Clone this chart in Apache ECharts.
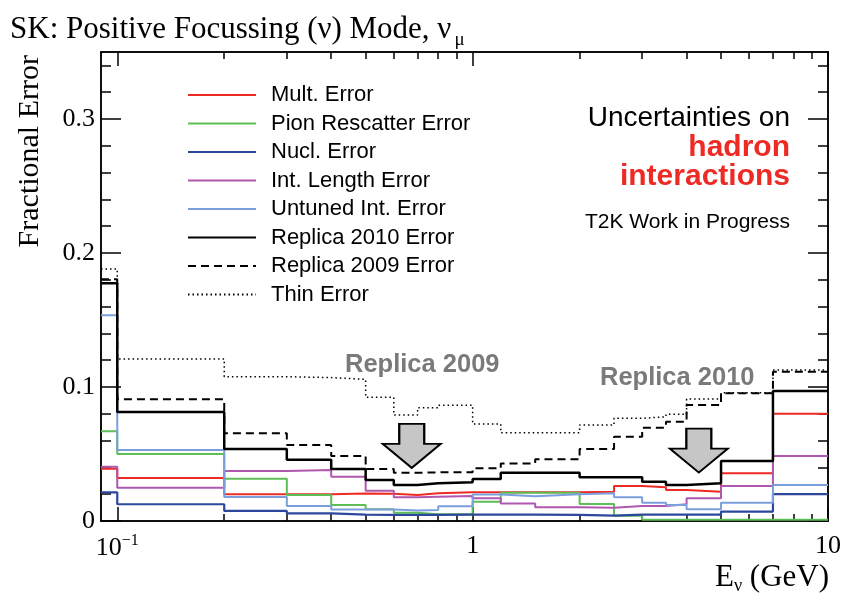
<!DOCTYPE html>
<html>
<head>
<meta charset="utf-8">
<script src="https://cdn.jsdelivr.net/npm/echarts@6/dist/echarts.min.js"></script>
<style>
html, body { margin: 0; padding: 0; background: #fff; }
#chart { width: 844px; height: 593px; }
</style>
</head>
<body>
<div id="chart"></div>
<script>
// bin edges (GeV), first bin starts at the axis edge
var binEdges = [0.09, 0.1, 0.2, 0.3, 0.4, 0.5, 0.6, 0.7, 0.8, 1.0, 1.2, 1.5, 2.0, 2.5, 3.0, 3.5, 4.0, 5.0, 7.0, 10];

var multErr    = [0.039, 0.032, 0.020, 0.020, 0.0205, 0.0204, 0.0194, 0.0207, 0.0214, 0.0214, 0.0214, 0.0214, 0.0219, 0.0261, 0.0251, 0.0231, 0.0219, 0.0356, 0.080];
var pionErr    = [0.067, 0.050, 0.0316, 0.0194, 0.012, 0.0087, 0.0062, 0.005, 0.005, 0.0144, 0.0211, 0.0211, 0.0127, 0.004, 0.001, 0.001, 0.001, 0.001, 0.001];
var nuclErr    = [0.0214, 0.0125, 0.0075, 0.0057, 0.0047, 0.0045, 0.0045, 0.0045, 0.0047, 0.0047, 0.0047, 0.0045, 0.004, 0.0047, 0.0047, 0.0047, 0.0047, 0.007, 0.0201];
var intLenErr  = [0.0405, 0.0249, 0.0373, 0.038, 0.033, 0.0226, 0.0177, 0.0181, 0.0187, 0.017, 0.013, 0.0103, 0.0099, 0.0112, 0.0112, 0.0125, 0.0169, 0.0261, 0.0485];
var untunedErr = [0.1535, 0.053, 0.018, 0.0112, 0.0085, 0.0085, 0.0078, 0.0082, 0.0111, 0.0197, 0.0185, 0.0199, 0.0207, 0.0177, 0.0137, 0.012, 0.0087, 0.0137, 0.0269];
var rep2010Err = [0.1774, 0.0813, 0.0537, 0.0458, 0.0388, 0.0306, 0.0269, 0.0281, 0.0289, 0.0313, 0.036, 0.036, 0.0326, 0.0326, 0.0293, 0.0269, 0.0281, 0.0448, 0.097];
var rep2009Err = [0.1804, 0.0908, 0.0654, 0.0567, 0.0485, 0.0388, 0.036, 0.0363, 0.0363, 0.0393, 0.043, 0.046, 0.0537, 0.0629, 0.0696, 0.0741, 0.0866, 0.0953, 0.1114];
var thinErr    = [0.188, 0.1209, 0.1077, 0.107, 0.1057, 0.0923, 0.0791, 0.0846, 0.0863, 0.0724, 0.0659, 0.0659, 0.0716, 0.0766, 0.0778, 0.0796, 0.091, 0.0958, 0.1127];

var seriesNames = ['Mult. Error', 'Pion Rescatter Error', 'Nucl. Error', 'Int. Length Error',
                   'Untuned Int. Error', 'Replica 2010 Error', 'Replica 2009 Error', 'Thin Error'];

var xMajorTicks = [0.1, 1, 10];
var xMinorTicks = [0.2, 0.3, 0.4, 0.5, 0.6, 0.7, 0.8, 0.9, 2, 3, 4, 5, 6, 7, 8, 9];
var yMajorTicks = [0, 0.1, 0.2, 0.3];
var yMinorTicks = [0.02, 0.04, 0.06, 0.08, 0.12, 0.14, 0.16, 0.18, 0.22, 0.24, 0.26, 0.28, 0.32, 0.34];

// arrows pointing at the replica curves
var arrowSpots = [[0.674, 0.056], [4.33, 0.0526]];

var serif = '"Liberation Serif", "DejaVu Serif", serif';
var sans = '"Liberation Sans", Arial, sans-serif';

function steps(vals) {
    var d = [];
    for (var i = 0; i < vals.length; i++) d.push([binEdges[i], vals[i]]);
    d.push([binEdges[binEdges.length - 1], vals[vals.length - 1]]);
    return d;
}

function histLine(name, vals, color, width, type) {
    return {
        name: name,
        type: 'line',
        step: 'end',
        symbol: 'none',
        showSymbol: false,
        xAxisIndex: 0,
        yAxisIndex: 0,
        lineStyle: { color: color, width: width, type: type || 'solid' },
        itemStyle: { color: color },
        data: steps(vals)
    };
}

var myChart = echarts.init(document.getElementById('chart'));

function xAx(pos, ticks, len, withLabels) {
    return {
        type: 'log',
        logBase: 10,
        min: 0.09,
        max: 10,
        position: pos,
        axisLine: { show: true, onZero: false, lineStyle: { color: '#000', width: 1.5 } },
        axisTick: { show: true, inside: true, length: len, customValues: ticks, lineStyle: { color: '#000', width: 1.5 } },
        axisLabel: withLabels ? {
            show: true,
            customValues: xMajorTicks,
            margin: 12,
            color: '#000',
            fontFamily: serif,
            fontSize: 26,
            formatter: function (v) {
                if (Math.abs(v - 0.1) < 1e-9) return '10{sup|\u22121}';
                return String(Math.round(v));
            },
            rich: { sup: { fontSize: 16, fontFamily: serif, color: '#000', verticalAlign: 'top', padding: [0, 0, 14, 0] } }
        } : { show: false },
        splitLine: { show: false }
    };
}

function yAx(pos, ticks, len, withLabels) {
    return {
        type: 'value',
        min: 0,
        max: 0.35,
        position: pos,
        axisLine: { show: true, onZero: false, lineStyle: { color: '#000', width: 1.5 } },
        axisTick: { show: true, inside: true, length: len, customValues: ticks, lineStyle: { color: '#000', width: 1.5 } },
        axisLabel: withLabels ? {
            show: true,
            customValues: yMajorTicks,
            margin: 6,
            color: '#000',
            fontFamily: serif,
            fontSize: 26,
            formatter: function (v) { return v === 0 ? '0' : v.toFixed(1); }
        } : { show: false },
        splitLine: { show: false }
    };
}

var series = [
    histLine(seriesNames[0], multErr, '#ee2a24', 2),
    histLine(seriesNames[1], pionErr, '#5dbe55', 2),
    histLine(seriesNames[2], nuclErr, '#2c479c', 2.2),
    histLine(seriesNames[3], intLenErr, '#b057b0', 2),
    histLine(seriesNames[4], untunedErr, '#7b9fdc', 2),
    histLine(seriesNames[5], rep2010Err, '#000000', 2.5),
    histLine(seriesNames[6], rep2009Err, '#000000', 2, [8, 5]),
    histLine(seriesNames[7], thinErr, '#000000', 1.5, [1.5, 3])
];

series[7].markPoint = {
    symbol: 'path://M16.5,0L41.5,0L41.5,20L58,20L29,44L0,20L16.5,20Z',
    symbolSize: [58, 44],
    itemStyle: { color: '#c6c6c6', borderColor: '#000', borderWidth: 2 },
    label: { show: false },
    data: arrowSpots.map(function (p) { return { coord: p }; })
};

var option = {
    animation: false,
    backgroundColor: '#fff',
    title: {
        text: 'SK: Positive Focussing (\u03bd) Mode, \u03bd{sub|\u03bc}',
        left: 5,
        top: 4,
        textStyle: {
            fontFamily: serif,
            fontSize: 31,
            fontWeight: 'normal',
            color: '#000',
            rich: { sub: { fontFamily: serif, fontSize: 19, color: '#000', verticalAlign: 'bottom', padding: [22, 0, 0, 3] } }
        }
    },
    grid: { left: 101, right: 15, top: 52, bottom: 72 },
    legend: {
        orient: 'vertical',
        left: 187,
        top: 84,
        padding: 0,
        itemWidth: 68,
        itemHeight: 20,
        itemGap: 6.5,
        selectedMode: false,
        itemStyle: { opacity: 0 },
        data: seriesNames,
        textStyle: { fontFamily: sans, fontSize: 22, color: '#000', padding: [0, 0, 0, 10] }
    },
    xAxis: [
        xAx('bottom', xMajorTicks, 14, true),
        xAx('bottom', xMinorTicks, 7, false),
        xAx('top', xMajorTicks, 14, false),
        xAx('top', xMinorTicks, 7, false)
    ],
    yAxis: [
        yAx('left', yMajorTicks, 20, true),
        yAx('left', yMinorTicks, 10, false),
        yAx('right', yMajorTicks, 20, false),
        yAx('right', yMinorTicks, 10, false)
    ],
    graphic: [
        { type: 'text', x: 30, y: 55, rotation: Math.PI / 2,
          style: { text: 'Fractional Error', font: '30px ' + serif, textAlign: 'right', textVerticalAlign: 'middle', fill: '#000' } },
        { type: 'text', x: 829, y: 578,
          style: { text: 'E{sub|\u03bd} (GeV)', font: '31px ' + serif, textAlign: 'right', textVerticalAlign: 'middle', fill: '#000',
                   rich: { sub: { fontFamily: serif, fontSize: 18, verticalAlign: 'bottom', padding: [16, 0, 0, 0] } } } },
        { type: 'text', x: 790, y: 118,
          style: { text: 'Uncertainties on', font: '28px ' + sans, textAlign: 'right', textVerticalAlign: 'middle', fill: '#000' } },
        { type: 'text', x: 790, y: 148,
          style: { text: 'hadron', font: 'bold 30px ' + sans, textAlign: 'right', textVerticalAlign: 'middle', fill: '#ee2a24' } },
        { type: 'text', x: 790, y: 177,
          style: { text: 'interactions', font: 'bold 30px ' + sans, textAlign: 'right', textVerticalAlign: 'middle', fill: '#ee2a24' } },
        { type: 'text', x: 790, y: 222,
          style: { text: 'T2K Work in Progress', font: '21px ' + sans, textAlign: 'right', textVerticalAlign: 'middle', fill: '#000' } },
        { type: 'text', x: 345, y: 365,
          style: { text: 'Replica 2009', font: 'bold 25.5px ' + sans, textAlign: 'left', textVerticalAlign: 'middle', fill: '#7a7a7a' } },
        { type: 'text', x: 600, y: 378,
          style: { text: 'Replica 2010', font: 'bold 25.5px ' + sans, textAlign: 'left', textVerticalAlign: 'middle', fill: '#7a7a7a' } }
    ],
    series: series
};

myChart.setOption(option);
window.addEventListener('resize', function () {
    myChart.resize();
});
</script>
</body>
</html>
